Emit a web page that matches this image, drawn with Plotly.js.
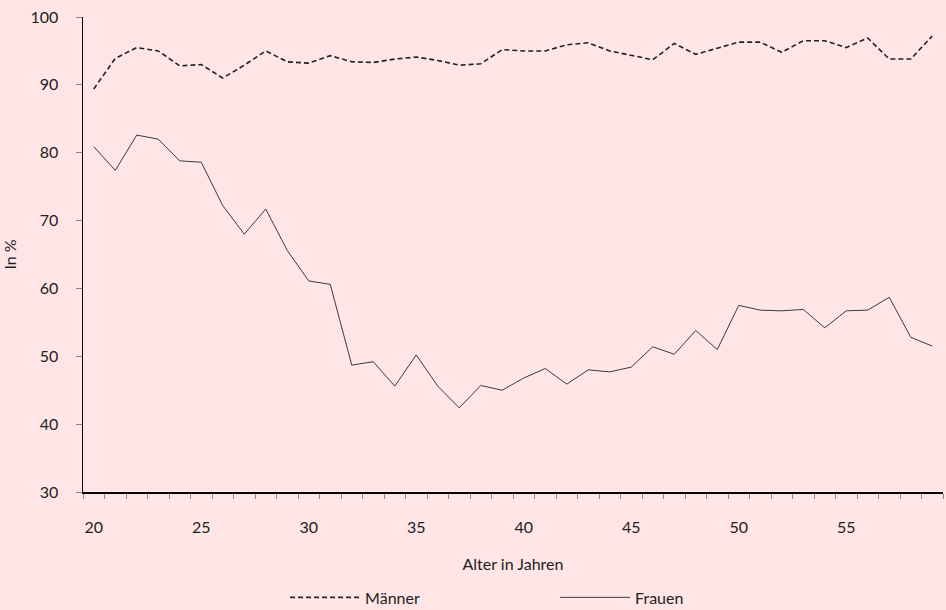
<!DOCTYPE html>
<html>
<head>
<meta charset="utf-8">
<script src="https://cdn.plot.ly/plotly-3.0.1.min.js"></script>
<style>
  html, body { margin: 0; padding: 0; background: #ffe5e6; }
  #chart { width: 946px; height: 610px; }
</style>
</head>
<body>
<div id="chart"></div>
<script>
  // Alter in Jahren
  const ages = [];
  for (let a = 20; a <= 59; a++) ages.push(a);

  // Anteil in %
  const maenner = [
    89.4, 93.9, 95.5, 95.0, 92.8, 93.0, 91.0, 92.9, 95.0, 93.4,
    93.2, 94.3, 93.4, 93.3, 93.8, 94.1, 93.6, 92.9, 93.1, 95.2,
    95.0, 95.0, 95.9, 96.2, 95.0, 94.4, 93.7, 96.1, 94.5, 95.4,
    96.3, 96.3, 94.8, 96.5, 96.5, 95.5, 96.9, 93.8, 93.8, 97.2
  ];
  const frauen = [
    80.9, 77.4, 82.6, 82.0, 78.8, 78.6, 72.2, 68.0, 71.7, 65.6,
    61.1, 60.6, 48.7, 49.2, 45.6, 50.2, 45.6, 42.4, 45.7, 45.0,
    46.8, 48.2, 45.9, 48.0, 47.7, 48.4, 51.4, 50.3, 53.8, 51.0,
    57.5, 56.8, 56.7, 56.9, 54.2, 56.7, 56.8, 58.7, 52.8, 51.5
  ];

  const xLabels = [20, 25, 30, 35, 40, 45, 50, 55];
  const yTicks = [30, 40, 50, 60, 70, 80, 90, 100];

  const FONT = 'Lato, "Open Sans", sans-serif';
  const INK = '#222222';

  const traces = [
    {
      x: ages, y: maenner, name: 'Männer', type: 'scatter', mode: 'lines',
      line: { color: '#222222', width: 1.6, dash: '5px,3px' },
      hoverinfo: 'skip'
    },
    {
      x: ages, y: frauen, name: 'Frauen', type: 'scatter', mode: 'lines',
      line: { color: '#3a3a3a', width: 1 },
      hoverinfo: 'skip'
    }
  ];

  const layout = {
    width: 946,
    height: 610,
    margin: { l: 83, r: 3, t: 17, b: 118, autoexpand: false },
    paper_bgcolor: '#ffe5e6',
    plot_bgcolor: '#ffe5e6',
    font: { family: FONT, size: 16, color: INK },
    showlegend: true,
    legend: {
      orientation: 'h',
      x: 0.235, xanchor: 'left',
      y: -0.222, yanchor: 'middle',
      itemwidth: 70,
      entrywidth: 185,
      bgcolor: 'rgba(0,0,0,0)',
      font: { family: FONT, size: 16, color: INK }
    },
    xaxis: {
      range: [19.5, 59.5],
      tickmode: 'array',
      tickvals: xLabels,
      ticktext: xLabels.map(String),
      ticks: 'outside',
      ticklen: 1,
      tickcolor: 'rgba(0,0,0,0)',
      ticklabelstandoff: 19,
      showgrid: false,
      zeroline: false,
      showline: true,
      linecolor: '#000000',
      linewidth: 1.5,
      minor: {
        tickmode: 'linear',
        tick0: 19.5,
        dtick: 1,
        ticks: 'outside',
        ticklen: 5,
        tickcolor: '#8a8a8a',
        tickwidth: 1,
        showgrid: false
      },
      title: { text: 'Alter in Jahren', standoff: 24, font: { family: FONT, size: 16, color: INK } },
      fixedrange: true
    },
    yaxis: {
      range: [30, 100],
      tickmode: 'array',
      tickvals: yTicks,
      ticks: 'outside',
      ticklen: 6,
      tickcolor: '#888888',
      ticklabelstandoff: 14,
      showgrid: false,
      zeroline: false,
      showline: true,
      linecolor: '#000000',
      linewidth: 1.5,
      title: { text: 'In %', standoff: 17, font: { family: FONT, size: 16, color: INK } },
      fixedrange: true
    }
  };

  Plotly.newPlot('chart', traces, layout, { displayModeBar: false, staticPlot: true });
</script>
</body>
</html>
